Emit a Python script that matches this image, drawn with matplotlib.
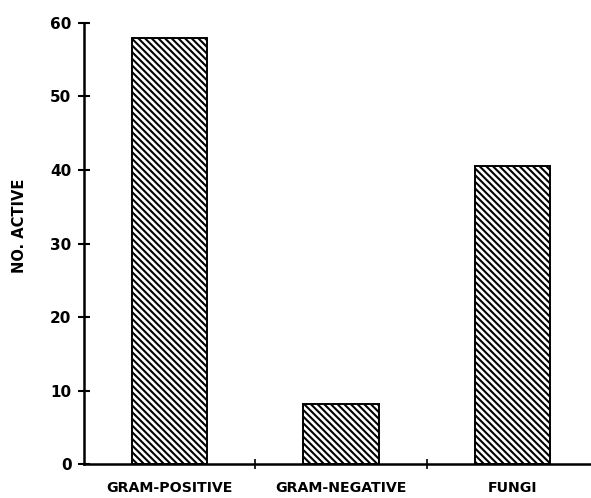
import matplotlib
matplotlib.use("Agg")
import matplotlib.pyplot as plt
import numpy as np

categories = ["GRAM-POSITIVE", "GRAM-NEGATIVE", "FUNGI"]
no_active = [58, 8.2, 40.6]
y_ticks = [0, 10, 20, 30, 40, 50, 60]

plt.rcParams["hatch.linewidth"] = 1.5
plt.rcParams["font.family"] = "DejaVu Sans"

fig = plt.figure(figsize=(5.91, 4.98), dpi=100)
ax = fig.add_axes([0.142, 0.068, 0.858, 0.886])

x = np.arange(len(categories)) + 0.5
ax.bar(x, no_active, width=0.44, color="white", edgecolor="black",
       linewidth=1.4, hatch="\\\\\\\\\\")

ax.set_xlim(0, 2.96)
ax.set_ylim(0, 60)

for side in ["top", "right"]:
    ax.spines[side].set_visible(False)
for side in ["left", "bottom"]:
    ax.spines[side].set_linewidth(1.8)

ax.set_yticks(y_ticks)
ax.set_yticklabels([str(v) for v in y_ticks], fontsize=11, fontweight="bold")
ax.tick_params(axis="y", direction="inout", length=8, width=1.5, pad=5)

ax.set_xticks([1, 2])
ax.set_xticklabels([])
ax.tick_params(axis="x", which="major", direction="inout", length=7, width=1.2)
ax.set_xticks(x, minor=True)
ax.set_xticklabels(categories, minor=True, fontsize=10.2, fontweight="bold")
ax.tick_params(axis="x", which="minor", length=0, pad=12)

ax.set_ylabel("NO. ACTIVE", fontsize=10.5, fontweight="bold")
ax.yaxis.set_label_coords(-0.112, 0.54)

fig.savefig("out.png", dpi=100)
